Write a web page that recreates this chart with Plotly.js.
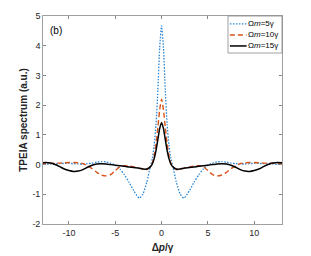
<!DOCTYPE html>
<html><head><meta charset="utf-8">
<script src="https://cdn.plot.ly/plotly-3.0.1.min.js"></script>
<style>body{margin:0;background:#fff}#c{width:311px;height:256px}</style>
</head><body><div id="c"></div>
<script>
const xs = [-13,-12.5,-12,-11.5,-11,-10.5,-10,-9.5,-9,-8.5,-8,-7.5,-7,-6.5,-6,-5.5,-5,-4.5,-4,-3.5,-3,-2.4,-2,-1.6,-1.2,-1.0,-0.8,-0.6,-0.4,-0.2,0,
            0.2,0.4,0.6,0.8,1.0,1.2,1.6,2,2.4,3,3.5,4,4.5,5,5.5,6,6.5,7,7.5,8,8.5,9,9.5,10,10.5,11,11.5,12,12.5,13];
const blue = [0.01,0.01,0.02,0.02,0.03,0.04,0.04,0.03,0.02,0.02,0.03,0.05,0.08,0.1,0.09,0.05,-0.02,-0.15,-0.35,-0.6,-0.88,-1.13,-0.98,-0.6,-0.05,0.2,0.65,1.35,2.5,3.95,4.67,
              3.95,2.5,1.35,0.65,0.2,-0.05,-0.6,-0.98,-1.13,-0.88,-0.6,-0.35,-0.15,-0.02,0.05,0.09,0.1,0.08,0.05,0.03,0.02,0.02,0.03,0.04,0.04,0.03,0.02,0.02,0.01,0.01];
const red = [0.03,0.04,0.04,0.05,0.05,0.06,0.07,0.07,0.06,0.03,-0.04,-0.14,-0.26,-0.35,-0.38,-0.34,-0.2,-0.08,-0.04,-0.05,-0.08,-0.12,-0.16,-0.17,-0.08,0.05,0.3,0.7,1.25,1.85,2.2,
             1.85,1.25,0.7,0.3,0.05,-0.08,-0.17,-0.16,-0.12,-0.08,-0.05,-0.04,-0.08,-0.2,-0.34,-0.38,-0.35,-0.26,-0.14,-0.04,0.03,0.06,0.07,0.07,0.06,0.05,0.05,0.04,0.04,0.03];
const black = [0.06,0.07,0.05,0.0,-0.07,-0.15,-0.2,-0.23,-0.22,-0.17,-0.09,-0.02,0.02,0.03,0.02,0.0,-0.02,-0.04,-0.06,-0.08,-0.1,-0.12,-0.15,-0.15,-0.07,0.02,0.2,0.48,0.85,1.22,1.42,
               1.22,0.85,0.48,0.2,0.02,-0.07,-0.15,-0.15,-0.12,-0.1,-0.08,-0.06,-0.04,-0.02,0.0,0.02,0.03,0.02,-0.02,-0.09,-0.17,-0.22,-0.23,-0.2,-0.15,-0.07,0.0,0.05,0.07,0.06];
const names = ['Ω<i>m</i>=5γ','Ω<i>m</i>=10γ','Ω<i>m</i>=15γ'];
const xticks = [-10,-5,0,5,10];
const yticks = [-2,-1,0,1,2,3,4,5];

const styles = [
  {color:'#2a86d4', width:1.3, dash:'1.5px,1.5px'},
  {color:'#D95319', width:1.4, dash:'5px,3px'},
  {color:'#000000', width:1.5, dash:'solid'}
];
const series = [blue, red, black];
const traces = series.map((ys,i)=>({x: xs, y: ys, name: names[i], mode:'lines', showlegend:false,
  line:Object.assign({shape:'spline', smoothing:0.6}, styles[i])}));

const shapes = [{type:'rect', xref:'paper', yref:'paper', x0:0.774, x1:1, y0:0.822, y1:1,
                 fillcolor:'#fff', line:{color:'#888', width:0.8}, layer:'above'}];
const annotations = [{text:'(b)', xref:'paper', yref:'paper', x:0.02, y:0.93, xanchor:'left', yanchor:'middle',
                      showarrow:false, font:{size:10, color:'#000'}}];
const rowsY = [0.962, 0.909, 0.856];
names.forEach((n,i)=>{
  shapes.push({type:'line', xref:'paper', yref:'paper', x0:0.782, x1:0.852, y0:rowsY[i], y1:rowsY[i],
               line:{color:styles[i].color, width:styles[i].width, dash:styles[i].dash}, layer:'above'});
  annotations.push({text:n, xref:'paper', yref:'paper', x:0.855, y:rowsY[i], xanchor:'left', yanchor:'middle',
                    showarrow:false, font:{size:8, color:'#000'}, borderpad:0});
});

const layout = {
  width:311, height:256,
  margin:{l:43, r:29, t:16, b:32},
  paper_bgcolor:'#fff', plot_bgcolor:'#fff',
  font:{family:'Liberation Sans, Arial, sans-serif', size:9, color:'#262626'},
  showlegend:false,
  xaxis:{range:[-12.8,13], tickvals:xticks, ticktext:xticks.map(String), ticks:'inside', ticklen:3, tickcolor:'#888',
         showline:true, linecolor:'#888', linewidth:0.8, mirror:'ticks', showgrid:false, zeroline:false,
         title:{text:'Δ<i>p</i>/γ', font:{size:10, weight:'bold'}, standoff:7}},
  yaxis:{range:[-2,5], tickvals:yticks, ticktext:yticks.map(String), ticks:'inside', ticklen:3, tickcolor:'#888',
         showline:true, linecolor:'#888', linewidth:0.8, mirror:'ticks', showgrid:false, zeroline:false,
         title:{text:'TPEIA spectrum (a.u.)', font:{size:10, weight:'bold'}, standoff:2}},
  shapes: shapes,
  annotations: annotations
};
Plotly.newPlot('c', traces, layout, {displayModeBar:false, staticPlot:true});
</script></body></html>
